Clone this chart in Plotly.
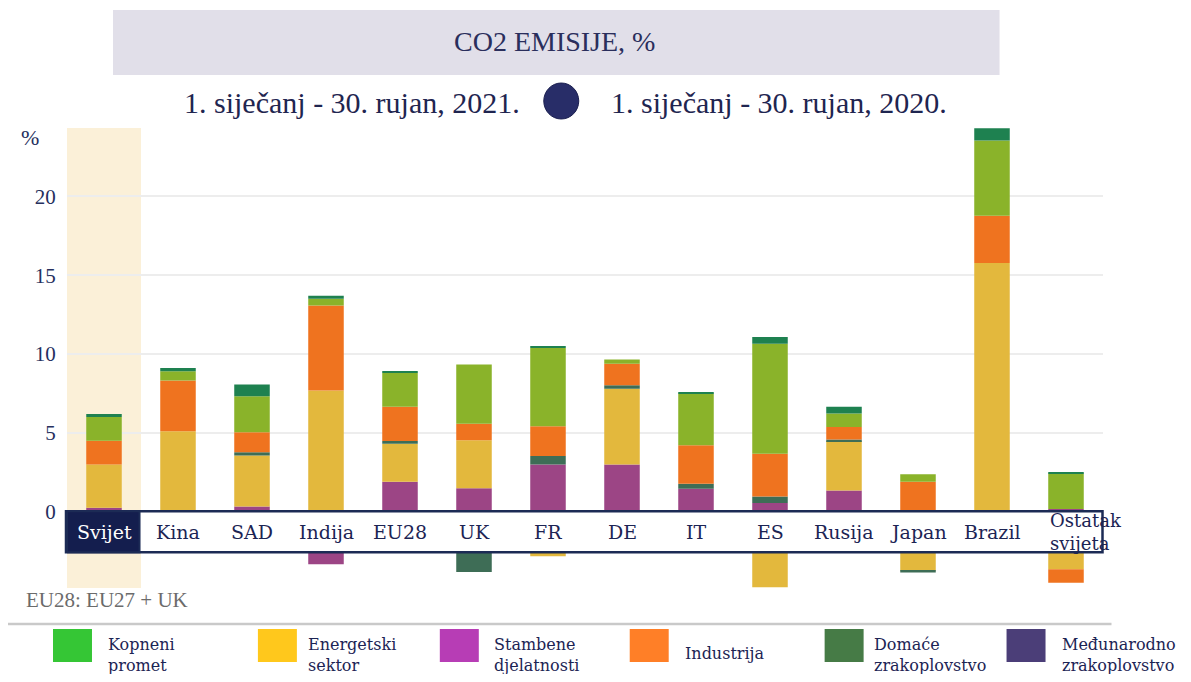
import plotly.graph_objects as go

# ---------------- data ----------------
categories = ["Svijet", "Kina", "SAD", "Indija", "EU28", "UK", "FR", "DE", "IT",
              "ES", "Rusija", "Japan", "Brazil", "Ostatak svijeta"]
category_labels = ["Svijet", "Kina", "SAD", "Indija", "EU28", "UK", "FR", "DE", "IT",
                   "ES", "Rusija", "Japan", "Brazil", "Ostatak<br>svijeta"]

stambene     = [0.23, 0.00, 0.30, -3.36, 1.88, 1.46, 2.98, 2.98, 1.44, 0.53, 1.33, 0.00, 0.00, 0.15]
energetski   = [2.75, 5.09, 3.25, 7.67, 2.41, 3.06, -2.85, 4.80, 0.00, -4.82, 3.13, -3.78, 15.77, -3.68]
domace       = [0.00, 0.00, 0.21, 0.00, 0.17, -3.85, 0.53, 0.23, 0.32, 0.42, 0.11, -0.10, 0.00, 0.00]
industrija   = [1.50, 3.22, 1.27, 5.41, 2.18, 1.04, 1.90, 1.36, 2.44, 2.70, 0.78, 1.88, 3.00, -0.85]
kopneni      = [1.52, 0.59, 2.28, 0.42, 2.16, 3.76, 4.97, 0.27, 3.28, 7.00, 0.86, 0.47, 4.78, 2.26]
medjunarodno = [0.19, 0.20, 0.74, 0.20, 0.06, 0.00, 0.10, 0.00, 0.05, 0.43, 0.43, 0.00, 0.78, 0.05]

series_names = ["Stambene djelatnosti", "Energetski sektor", "Domaće zrakoplovstvo",
                "Industrija", "Kopneni promet", "Međunarodno zrakoplovstvo"]
series_values = [stambene, energetski, domace, industrija, kopneni, medjunarodno]
bar_colors = ["#9c4585", "#e3b83d", "#3e6d56", "#ef731f", "#8ab32a", "#1e8150"]

legend_labels = ["Kopneni<br>promet", "Energetski<br>sektor", "Stambene<br>djelatnosti",
                 "Industrija", "Domaće<br>zrakoplovstvo", "Međunarodno<br>zrakoplovstvo"]
legend_colors = ["#35c635", "#ffc81c", "#b73db5", "#ff7f27", "#467b46", "#4b3e78"]

title_text = "CO2 EMISIJE, %"
period_2021 = "1. siječanj - 30. rujan, 2021."
period_2020 = "1. siječanj - 30. rujan, 2020."
footnote = "EU28: EU27 + UK"
y_ticks = [0, 5, 10, 15, 20]

# ---------------- layout helpers ----------------
OFF = 8                      # page body margin
W, H = 1191 - 2 * OFF, 682 - 2 * OFF
L, R, T, B = 67, 1103.5, 128, 588   # plot area in screenshot pixels
pw, ph = R - L, B - T


def px(x):
    return (x - L) / pw


def py(y):
    return (B - y) / ph


NAVY = "#26305e"
SERIF = "Liberation Serif"
SLAB = "DejaVu Serif"

fig = go.Figure()
for name, vals, col in zip(series_names, series_values, bar_colors):
    fig.add_trace(go.Bar(x=categories, y=vals, name=name, marker_color=col,
                         marker_line_width=0, showlegend=False))

shapes = []
annotations = []


def note(x, y, text, size, color, family=SERIF, xanchor="center", align="center"):
    annotations.append(dict(x=px(x), y=py(y), xref="paper", yref="paper", text=text,
                            showarrow=False, xanchor=xanchor, yanchor="middle", align=align,
                            font=dict(family=family, size=size, color=color)))


# highlight of "Svijet" column
shapes.append(dict(type="rect", xref="x", yref="paper", x0=-0.5, x1=0.5, y0=0, y1=1,
                   fillcolor="#fbf0d8", line_width=0, layer="below"))
# category band over the zero area
shapes.append(dict(type="rect", xref="paper", yref="y", x0=px(66), x1=px(1103), y0=0, y1=-2.6,
                   fillcolor="white", line=dict(color="#1c2b55", width=2.5), layer="above"))
shapes.append(dict(type="rect", xref="x", yref="y", x0=-0.5, x1=0.48, y0=0, y1=-2.6,
                   fillcolor="#141e4e", line=dict(color="#1c2b55", width=2), layer="above"))

for i, (cat, lab) in enumerate(zip(categories, category_labels)):
    if i == len(categories) - 1:
        annotations.append(dict(x=cat, y=-1.3, xref="x", yref="y", text=lab, showarrow=False,
                                xanchor="left", yanchor="middle", xshift=-18, align="left",
                                font=dict(family=SLAB, size=18, color="#1c2454")))
    else:
        annotations.append(dict(x=cat, y=-1.3, xref="x", yref="y", text=lab, showarrow=False,
                                xanchor="center", yanchor="middle",
                                font=dict(family=SLAB, size=19,
                                          color="white" if i == 0 else "#1c2454")))

# title box
shapes.append(dict(type="rect", xref="paper", yref="paper", x0=px(113), x1=px(1000),
                   y0=py(75), y1=py(10), fillcolor="#e1dfe9", line_width=0, layer="below"))
note(555, 42, title_text, 28, "#2a2e5c")

# period labels with sphere
note(352, 102, period_2021, 30, "#1f2550")
note(779, 102, period_2020, 30, "#1f2550")
shapes.append(dict(type="circle", xref="paper", yref="paper", x0=px(544), x1=px(579),
                   y0=py(119), y1=py(83), fillcolor="#282d68", line=dict(color="#1c2050", width=1)))

# y axis unit
note(30, 137, "%", 22, NAVY)

# footnote and separator line
note(24, 600, footnote, 21, "#6b6b6b", xanchor="left", align="left")
shapes.append(dict(type="line", xref="paper", yref="paper", x0=px(5), x1=px(1112),
                   y0=py(624), y1=py(624), line=dict(color="#c9c9c9", width=2.5)))

# custom legend
sq_x = [53, 258, 440, 630, 825, 1007]
tx_x = [106, 306, 492, 683, 872, 1060]
for sx, tx, lab, col in zip(sq_x, tx_x, legend_labels, legend_colors):
    shapes.append(dict(type="rect", xref="paper", yref="paper", x0=px(sx), x1=px(sx + 39),
                       y0=py(662), y1=py(629), fillcolor=col, line_width=0))
    note(tx, 655 if "<br>" in lab else 653, lab, 16, "#1c2454", family=SLAB,
         xanchor="left", align="left")

fig.update_layout(
    barmode="relative",
    bargap=0.52,
    width=W, height=H,
    margin=dict(l=L - OFF, r=W - (R - OFF), t=T - OFF, b=H - (B - OFF), autoexpand=False),
    paper_bgcolor="white",
    plot_bgcolor="white",
    shapes=shapes,
    annotations=annotations,
    xaxis=dict(type="category", showticklabels=False, showgrid=False, zeroline=False,
               showline=False, ticks="", range=[-0.5, len(categories) - 0.5]),
    yaxis=dict(range=[-4.87, 24.35], tickvals=y_ticks, showgrid=True, gridcolor="#ededed",
               gridwidth=1.5, zeroline=False, showline=False, ticks="outside", ticklen=6,
               tickcolor="rgba(0,0,0,0)",
               tickfont=dict(family=SERIF, size=21, color=NAVY)),
)

fig.write_html("out.html")
